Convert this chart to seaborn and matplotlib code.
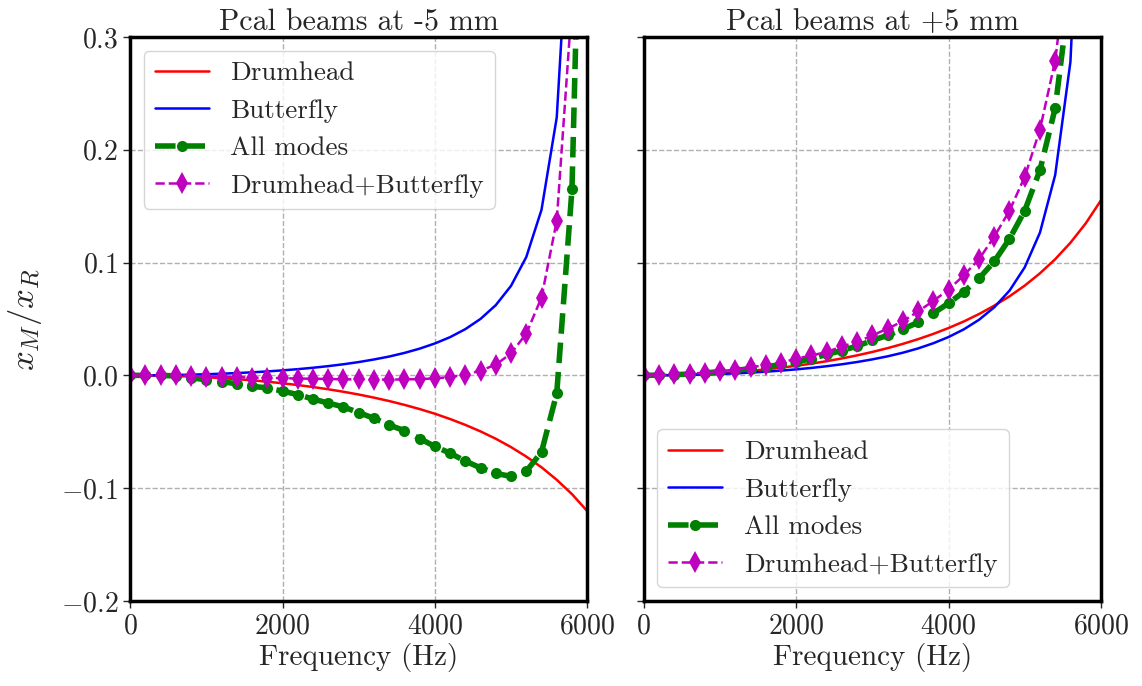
import seaborn as sns
import numpy as np
import pandas as pd
import matplotlib.pyplot as plt

# frequency grid (Hz)
freq = [0, 200, 400, 600, 800, 1000, 1200, 1400, 1600, 1800, 2000, 2200, 2400, 2600, 2800,
        3000, 3200, 3400, 3600, 3800, 4000, 4200, 4400, 4600, 4800, 5000, 5200, 5400, 5600,
        5800, 6000]

# Pcal beams at -5 mm
drum_m5 = [0, -0.00007, -0.00026, -0.0006, -0.00106, -0.00167, -0.00242, -0.00332, -0.00438,
           -0.0056, -0.00699, -0.00856, -0.01033, -0.01231, -0.01452, -0.01698, -0.01972,
           -0.02275, -0.02613, -0.02987, -0.034, -0.0387, -0.0439, -0.0497, -0.0562, -0.0636,
           -0.072, -0.0815, -0.0926, -0.1053, -0.1203]
butter_m5 = [0, 0.00004, 0.00016, 0.00036, 0.00064, 0.00102, 0.00148, 0.00205, 0.00272,
             0.00351, 0.00444, 0.00551, 0.00676, 0.0082, 0.00987, 0.0118, 0.0141, 0.0167,
             0.0199, 0.0237, 0.0283, 0.0339, 0.041, 0.0501, 0.0623, 0.0794, 0.1049, 0.1468,
             0.2287, 0.458, 4.77]
all_m5 = [0, 0, 0, -0.0005, -0.002, -0.004, -0.0055, -0.0075, -0.0098, -0.011, -0.014, -0.017,
          -0.021, -0.0245, -0.028, -0.033, -0.038, -0.044, -0.049, -0.056, -0.063, -0.069,
          -0.076, -0.082, -0.087, -0.0895, -0.085, -0.068, -0.016, 0.165, 0.7]
sum_m5 = [0, 0, 0, 0, -0.0005, -0.001, -0.0012, -0.0015, -0.002, -0.0022, -0.0025, -0.0028,
          -0.003, -0.0032, -0.0035, -0.0036, -0.0037, -0.0037, -0.0036, -0.0033, -0.0027,
          -0.0015, 0.0005, 0.0042, 0.0095, 0.0195, 0.037, 0.069, 0.137, 0.33, 4.7]

# Pcal beams at +5 mm
drum_p5 = [0, 0.00008, 0.00032, 0.00072, 0.00129, 0.00203, 0.00294, 0.00404, 0.00532,
           0.00681, 0.00851, 0.01043, 0.0126, 0.01503, 0.01775, 0.02078, 0.02416, 0.02792,
           0.03211, 0.03678, 0.042, 0.0478, 0.0544, 0.0618, 0.0701, 0.0796, 0.0905, 0.103,
           0.1176, 0.1347, 0.1551]
butter_p5 = [0, 0.00005, 0.00019, 0.00043, 0.00077, 0.00122, 0.00178, 0.00246, 0.00326,
             0.00422, 0.00533, 0.00662, 0.00812, 0.00985, 0.01186, 0.0142, 0.0169, 0.0201,
             0.0239, 0.0285, 0.034, 0.0408, 0.0493, 0.0604, 0.0751, 0.0958, 0.1266, 0.1777,
             0.278, 0.5637, 7.72]
all_p5 = [0, 0.0002, 0.0006, 0.0012, 0.002, 0.0035, 0.0044, 0.006, 0.0074, 0.0098, 0.0118,
          0.0148, 0.0186, 0.022, 0.026, 0.031, 0.0355, 0.041, 0.047, 0.055, 0.064, 0.074,
          0.086, 0.101, 0.121, 0.146, 0.182, 0.237, 0.345, 0.6, 1.5]
sum_p5 = [0, 0.0003, 0.0008, 0.0015, 0.0024, 0.0038, 0.005, 0.0074, 0.0089, 0.0113, 0.0148,
          0.0177, 0.0207, 0.0257, 0.0295, 0.0355, 0.0414, 0.048, 0.0567, 0.066, 0.076,
          0.0887, 0.103, 0.123, 0.146, 0.176, 0.218, 0.279, 0.39, 0.70, 7.85]

titles = ['Pcal beams at -5 mm', 'Pcal beams at +5 mm']

sns.set_style('ticks')
plt.rcParams['font.family'] = 'serif'
plt.rcParams['font.serif'] = ['cmr10', 'DejaVu Serif']
plt.rcParams['mathtext.fontset'] = 'cm'
plt.rcParams['axes.formatter.use_mathtext'] = True
plt.rcParams['font.size'] = 20
plt.rcParams['axes.unicode_minus'] = True

fig, axes = plt.subplots(1, 2, figsize=(11.42, 6.86), dpi=100, sharey=True)
fig.subplots_adjust(left=0.114, right=0.964, top=0.946, bottom=0.124, wspace=0.124)

panels = [(drum_m5, butter_m5, all_m5, sum_m5), (drum_p5, butter_p5, all_p5, sum_p5)]
for ax, (d, b, a, s), title in zip(axes, panels, titles):
    sns.lineplot(x=freq, y=d, ax=ax, color='r', lw=1.8, label='Drumhead')
    sns.lineplot(x=freq, y=b, ax=ax, color='b', lw=1.8, label='Butterfly')
    sns.lineplot(x=freq, y=a, ax=ax, color='g', lw=4, linestyle='--', marker='o',
                 markersize=8, markeredgewidth=0, label='All modes')
    sns.lineplot(x=freq, y=s, ax=ax, color='m', lw=1.8, linestyle='--', marker='d',
                 markersize=11, markeredgewidth=0, label='Drumhead+Butterfly')
    ax.set_xlim(0, 6000)
    ax.set_ylim(-0.2, 0.3)
    ax.set_xticks([0, 2000, 4000, 6000])
    ax.set_yticks([-0.2, -0.1, 0.0, 0.1, 0.2, 0.3])
    ax.grid(True, linestyle='--', color='#b0b0b0', lw=1)
    for sp in ax.spines.values():
        sp.set_linewidth(2.5)
        sp.set_color('black')
    ax.tick_params(labelsize=20, width=1, length=5)
    ax.set_xlabel('Frequency (Hz)', fontsize=21, labelpad=3)
    ax.set_title(title, fontsize=21.5, pad=5)

axes[0].set_ylabel(r'$x_M/x_R$', fontsize=25, labelpad=12)
axes[0].legend(loc='upper left', fontsize=19.5, fancybox=True, framealpha=0.8)
axes[1].legend(loc='lower left', fontsize=19.5, fancybox=True, framealpha=0.8)

fig.savefig('out.png', dpi=100)
